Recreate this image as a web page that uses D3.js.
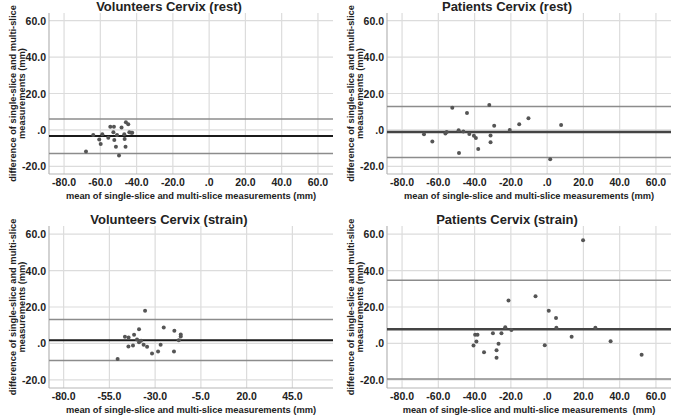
<!DOCTYPE html>
<html>
<head>
<meta charset="utf-8">
<script src="https://cdn.jsdelivr.net/npm/d3@7"></script>
<style>
  body { margin: 0; background: #fff; }
  text { font-family: "Liberation Sans", Arial, sans-serif; font-weight: bold; fill: #222; }
</style>
</head>
<body>
<div id="chart"></div>
<script>
// values: mean (x) and difference (y) per subject
var volRestX = [-67.9, -63.9, -60.6, -59.8, -58.9, -55.6, -54.5, -52.5, -52.8, -52.3, -50.8, -51.4, -49.7, -48.3, -46.8, -46.6, -46.1, -45.9, -44.6, -44.0, -42.9, -42.4];
var volRestY = [-11.9, -2.8, -5.2, -7.7, -2.4, -4.3, 1.8, 1.8, -1.3, -5.5, -2.8, -9.2, -14.0, 1.4, -2.4, -5.0, -9.2, 4.2, 3.1, -1.3, -1.5, -1.5];
var volRestLines = [6.0, -3.3, -12.9];

var patRestX = [-67.9, -63.3, -56.1, -55.4, -52.3, -48.8, -48.6, -46.2, -44.2, -42.9, -40.4, -39.3, -38.0, -31.9, -31.2, -31.2, -29.2, -20.6, -15.4, -10.3, 1.7, 7.7];
var patRestY = [-2.4, -6.4, -1.9, -1.1, 12.2, -0.2, -12.7, -0.9, 9.3, -2.2, -3.2, -4.4, -10.5, 13.7, -6.7, -3.0, 2.3, 0.0, 3.1, 6.4, -16.1, 2.7];
var patRestLines = [12.8, -1.1, -15.1];

var volStrainX = [-50.5, -46.5, -44.5, -44.6, -42.1, -41.5, -39.9, -38.8, -38.8, -37.7, -36.3, -35.5, -34.4, -31.7, -28.4, -27.0, -25.3, -19.5, -19.7, -17.1, -16.0, -16.0];
var volStrainY = [-8.6, 3.6, 3.3, -1.7, -1.1, 4.7, 2.2, 7.8, 0.7, 1.4, -0.8, 17.9, -1.9, -5.5, -4.4, -0.8, 8.7, 6.9, -4.4, 1.8, 4.9, 3.8];
var volStrainLines = [13.1, 1.8, -9.4];

var patStrainX = [-40.6, -39.7, -38.4, -39.0, -34.8, -29.9, -27.9, -27.9, -26.8, -25.2, -23.1, -21.3, -19.7, -6.4, -1.3, 0.9, 4.9, 5.1, 13.5, 19.8, 26.6, 35.0, 52.1];
var patStrainY = [-1.1, 4.7, 4.7, 1.1, -4.8, 5.6, -3.7, -7.9, -0.2, 5.6, 8.9, 23.6, 7.3, 25.9, -1.0, 17.9, 13.9, 8.6, 3.6, 56.7, 8.6, 1.2, -6.3];
var patStrainLines = [34.7, 7.8, -19.6];

var xTicksA = [-80, -60, -40, -20, 0, 20, 40, 60];
var xTicksB = [-80, -55, -30, -5, 20, 45];
var yTicks = [60, 40, 20, 0, -20];

var titles = ["Volunteers Cervix (rest)", "Patients Cervix (rest)", "Volunteers Cervix (strain)", "Patients Cervix (strain)"];
var xTitle = "mean of single-slice and multi-slice measurements (mm)";
var xTitle4 = "mean of single-slice and multi-slice measurements\u00a0 (mm)";

var W = 676, H = 420;
var svg = d3.select("#chart").append("svg").attr("width", W).attr("height", H);

var panels = [
  {x: volRestX, y: volRestY, lines: volRestLines, ticks: xTicksA, xd: [-88.3, 68.3], yd: [-24.2, 64.2], box: [49, 333, 13, 174], ox: 0, xt: xTitle, meanCol: "#1a1a1a", meanW: 2},
  {x: patRestX, y: patRestY, lines: patRestLines, ticks: xTicksA, xd: [-88.3, 68.3], yd: [-24.2, 64.2], box: [387, 671, 13, 174], ox: 338, xt: xTitle, meanCol: "#444", meanW: 2.5},
  {x: volStrainX, y: volStrainY, lines: volStrainLines, ticks: xTicksB, xd: [-88, 67.2], yd: [-24.5, 64.5], box: [49, 333, 226, 388], ox: 0, xt: xTitle, meanCol: "#1a1a1a", meanW: 2},
  {x: patStrainX, y: patStrainY, lines: patStrainLines, ticks: xTicksA, xd: [-88.3, 68.3], yd: [-24.5, 64.5], box: [387, 671, 226, 388], ox: 338, xt: xTitle4, meanCol: "#444", meanW: 2.5}
];

var fmt = d => d === 0 ? ".0" : d.toFixed(1);

panels.forEach(function(p, i) {
  var [l, r, t, b] = p.box;
  var x = d3.scaleLinear().domain(p.xd).range([l, r]);
  var y = d3.scaleLinear().domain(p.yd).range([b, t]);
  var g = svg.append("g");

  // grid
  g.selectAll(".vg").data(p.ticks).enter().append("line")
    .attr("x1", d => x(d)).attr("x2", d => x(d)).attr("y1", t).attr("y2", b)
    .attr("stroke", "#dcdcdc").attr("stroke-width", 1.2);
  g.selectAll(".hg").data(yTicks).enter().append("line")
    .attr("x1", l).attr("x2", r).attr("y1", d => y(d)).attr("y2", d => y(d))
    .attr("stroke", "#dcdcdc").attr("stroke-width", 1.2);

  // axes lines
  g.append("line").attr("x1", l).attr("x2", l).attr("y1", t).attr("y2", b)
    .attr("stroke", "#b5b5b5").attr("stroke-width", 1.2);
  g.append("line").attr("x1", l).attr("x2", r).attr("y1", b).attr("y2", b)
    .attr("stroke", "#b5b5b5").attr("stroke-width", 1.2);

  // tick labels
  g.selectAll(".xt").data(p.ticks).enter().append("text")
    .attr("x", d => x(d)).attr("y", b + 12)
    .attr("text-anchor", "middle").attr("font-size", 10.5).text(fmt);
  g.selectAll(".yt").data(yTicks).enter().append("text")
    .attr("x", l - 3).attr("y", d => y(d) + 4)
    .attr("text-anchor", "end").attr("font-size", 10.5).text(fmt);

  // limits of agreement and mean
  g.selectAll(".ref").data(p.lines).enter().append("line")
    .attr("x1", l).attr("x2", r).attr("y1", d => y(d)).attr("y2", d => y(d))
    .attr("stroke", (d, k) => k === 1 ? p.meanCol : "#8c8c8c")
    .attr("stroke-width", (d, k) => k === 1 ? p.meanW : 1.5);

  // points
  g.selectAll(".pt").data(p.x).enter().append("circle")
    .attr("cx", d => x(d)).attr("cy", (d, k) => y(p.y[k])).attr("r", 2)
    .attr("fill", "#555");

  // titles
  g.append("text").attr("x", p.ox + 169).attr("y", t - 2)
    .attr("text-anchor", "middle").attr("font-size", 13).text(titles[i]);
  g.append("text").attr("x", (l + r) / 2).attr("y", b + 25)
    .attr("text-anchor", "middle").attr("font-size", 9.3).text(p.xt);
  var cy = (t + b) / 2;
  var yl = g.append("text").attr("transform", `translate(${p.ox + 16}, ${cy}) rotate(-90)`)
    .attr("text-anchor", "middle").attr("font-size", 9.3);
  yl.append("tspan").attr("x", 0).attr("y", 0).text("difference of single-slice and multi-slice");
  yl.append("tspan").attr("x", 0).attr("y", 9).text("measurements (mm)");
});
</script>
</body>
</html>
